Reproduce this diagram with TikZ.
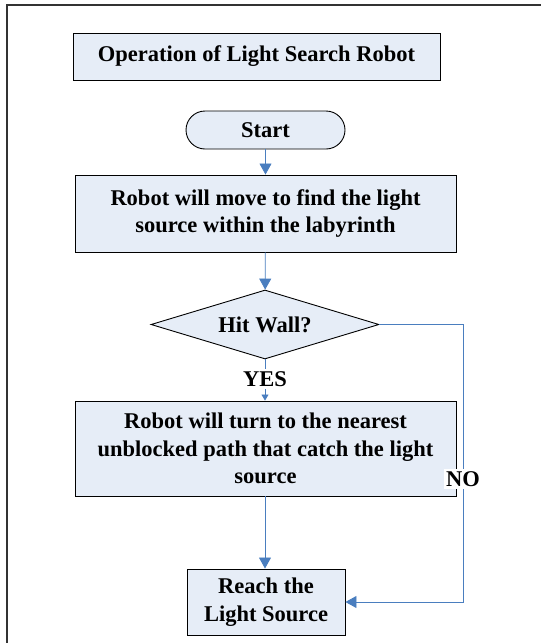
\documentclass[tikz,border=0pt]{standalone}
\usepackage{fontspec}
\setmainfont{Liberation Serif}
\usetikzlibrary{shapes.geometric,arrows.meta}
\definecolor{boxfill}{HTML}{E6EDF7}
\definecolor{flowblue}{HTML}{4A7EBF}
\begin{document}
\begin{tikzpicture}[x=1pt,y=-1pt,
  every node/.style={font=\bfseries\fontsize{22.5}{27.5}\selectfont, align=center, inner sep=0pt},
  boxstyle/.style={draw=black, line width=0.9pt, fill=boxfill},
  flow/.style={draw=flowblue, line width=0.8pt, -{Triangle[length=11pt,width=12pt]}},
  smallflow/.style={draw=flowblue, line width=0.8pt, -{Triangle[length=6pt,width=7pt]}},
  lbl/.style={fill=white, inner sep=2pt}]
\useasboundingbox (0,0) rectangle (541,643);
% outer frame (open on right and bottom)
\draw[line width=1.6pt, draw=black!80] (7,643) -- (7,5) -- (541,5);
% title
\node[boxstyle, minimum width=367pt, minimum height=47pt] (title) at (256.5,56.5) {Operation of Light Search Robot};
% start
\node[boxstyle, rounded corners=19pt, minimum width=159pt, minimum height=38pt] (start) at (265.5,130) {Start};
% box1
\node[boxstyle, minimum width=381pt, minimum height=77pt] (move) at (265.5,213.5) {Robot will move to find the light\\source within the labyrinth};
% diamond
\node[boxstyle, diamond, aspect=3.3, minimum width=228pt, minimum height=69pt] (hit) at (265,324.5) {Hit Wall?};
% box2
\node[boxstyle, minimum width=381pt, minimum height=95pt] (turn) at (265.5,448.5) {Robot will turn to the nearest\\unblocked path that catch the light\\source};
% box3
\node[boxstyle, minimum width=158pt, minimum height=66pt] (reach) at (266,602) {Reach the\\Light Source};
% connectors
\draw[flow] (start) -- (move);
\draw[flow] (move) -- (hit);
\coordinate (yesmid) at (265,379);
\draw[smallflow] (hit.south) -- (hit.south |- turn.north);
\node[lbl] (yes) at (yesmid) {YES};
\draw[flow] (turn.south -| 265,0) -- (reach.north -| 265,0);
\coordinate (nocorner1) at (463,324.5);
\coordinate (nocorner2) at (463,602);
\draw[flow] (hit.east) -- (nocorner1) -- (nocorner2) -- (reach.east);
\node[lbl] (no) at (463,479) {NO};
\end{tikzpicture}
\end{document}
